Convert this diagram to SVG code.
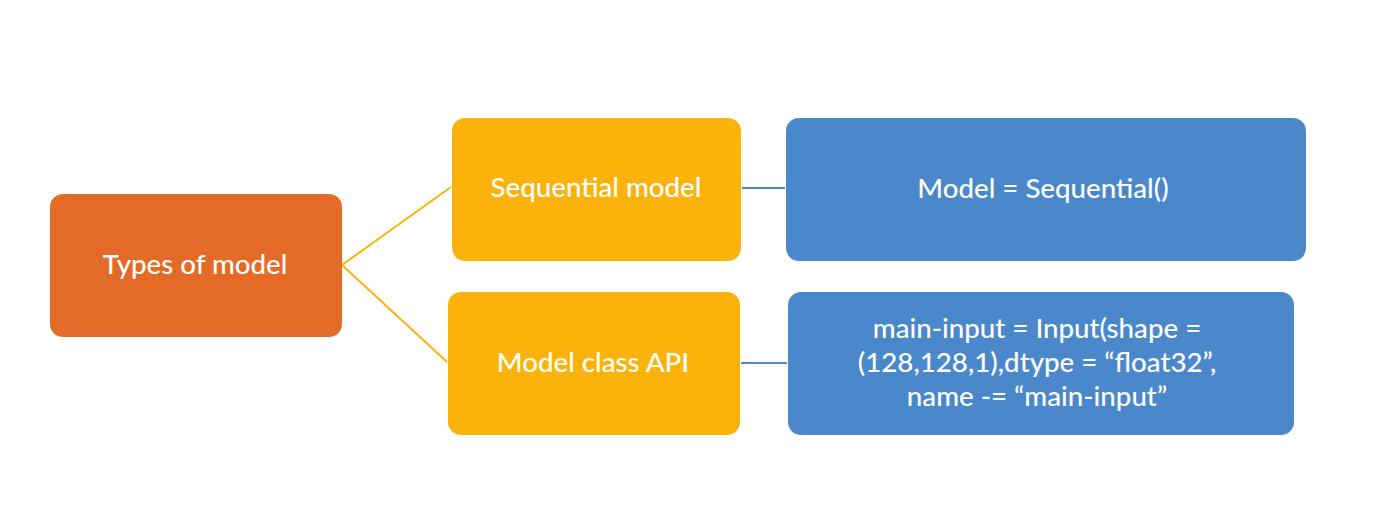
<svg xmlns="http://www.w3.org/2000/svg" width="1392" height="532" viewBox="0 0 1392 532">
<style>
.t{font-family:Lato,"Liberation Sans",sans-serif;font-size:27.7px;font-weight:500;fill:#fff;text-anchor:middle}
.o{fill:#E46A27}.y{fill:#FBB30B}.b{fill:#4A88CB}
.cy{stroke:#FBB30B;stroke-width:2;fill:none}.cb{stroke:#4A88CB;stroke-width:2;fill:none}
</style>
<rect width="1392" height="532" fill="#fff"/>
<g id="connectors">
<line class="cy" x1="342" y1="265" x2="451" y2="187"/>
<line class="cy" x1="342" y1="265" x2="447" y2="362"/>
<line class="cb" x1="742" y1="188" x2="785" y2="188"/>
<line class="cb" x1="741" y1="363" x2="787" y2="363"/>
</g>
<g id="types"><rect class="o" x="50" y="194" width="292" height="143" rx="13"/><text class="t" x="195" y="274">Types of model</text></g>
<g id="sequential"><rect class="y" x="452" y="118" width="289" height="143" rx="13"/><text class="t" x="596" y="197">Sequential model</text></g>
<g id="modelclass"><rect class="y" x="448" y="292" width="292" height="143" rx="13"/><text class="t" x="593" y="372">Model class API</text></g>
<g id="seqcode"><rect class="b" x="786" y="118" width="520" height="143" rx="13"/><text class="t" x="1043" y="198">Model = Sequential()</text></g>
<g id="inputcode"><rect class="b" x="788" y="292" width="506" height="143" rx="13"/>
<text class="t" x="1037" y="338">main-input = Input(shape =</text>
<text class="t" x="1037" y="372">(128,128,1),dtype = “float32”,</text>
<text class="t" x="1037" y="406">name -= “main-input”</text></g>
</svg>
